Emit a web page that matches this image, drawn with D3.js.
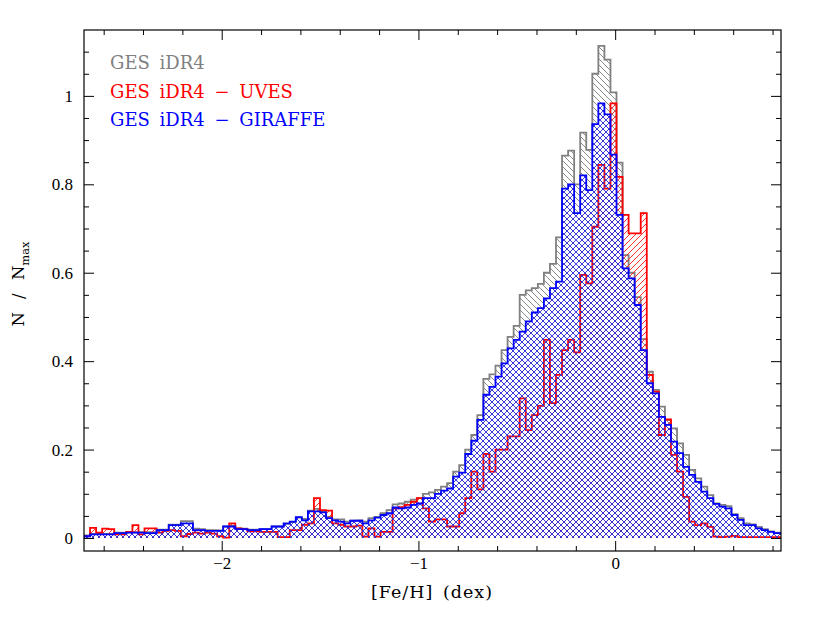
<!DOCTYPE html>
<html><head><meta charset="utf-8">
<script src="https://cdn.jsdelivr.net/npm/d3@7"></script>
<style>body{margin:0;background:#fff}svg{display:block}</style>
</head><body>
<svg id="c" width="830" height="621"></svg>
<script>
// ---- data ----
const binStart = -2.70;      // left edge of first bin (dex)
const binWidth = 0.03076;    // bin width (dex)
const seriesNames = ["GES iDR4", "GES iDR4 \u2212 UVES", "GES iDR4 \u2212 GIRAFFE"];
const totalValues = [
0.006,0.009,0.009,0.009,0.009,0.012,0.012,0.013,0.013,0.013,
0.013,0.013,0.019,0.019,0.030,0.030,0.038,0.038,0.021,0.020,
0.018,0.018,0.017,0.026,0.028,0.022,0.021,0.019,0.019,0.020,
0.020,0.026,0.026,0.032,0.036,0.046,0.043,0.062,0.066,0.060,
0.048,0.042,0.042,0.037,0.039,0.040,0.037,0.045,0.048,0.056,
0.063,0.076,0.078,0.082,0.087,0.090,0.100,0.103,0.109,0.116,
0.124,0.150,0.165,0.200,0.233,0.278,0.360,0.370,0.390,0.425,
0.455,0.480,0.550,0.560,0.565,0.575,0.600,0.620,0.680,0.865,
0.876,0.800,0.917,0.878,1.050,1.113,1.082,1.008,0.849,0.640,
0.600,0.545,0.450,0.376,0.335,0.297,0.267,0.248,0.214,0.188,
0.154,0.135,0.116,0.097,0.078,0.075,0.072,0.054,0.045,0.033,
0.031,0.025,0.020,0.015,0.012,0.012];
const uvesValues = [
0.004,0.023,0.012,0.021,0.020,0.008,0.008,0.014,0.029,0.008,
0.022,0.022,0.012,0.016,0.018,0.016,0.004,0.009,0.012,0.010,
0.012,0.010,0.004,0.001,0.033,0.022,0.020,0.015,0.015,0.014,
0.014,0.014,0.002,0.002,0.018,0.018,0.030,0.033,0.090,0.063,
0.062,0.033,0.030,0.026,0.026,0.028,0.003,0.022,0.003,0.014,
0.014,0.067,0.070,0.075,0.082,0.090,0.067,0.037,0.042,0.042,
0.026,0.026,0.056,0.090,0.150,0.110,0.190,0.150,0.200,0.200,
0.230,0.230,0.316,0.244,0.278,0.299,0.448,0.305,0.369,0.425,
0.448,0.420,0.595,0.576,0.704,0.844,0.790,0.983,0.817,0.731,
0.689,0.689,0.735,0.369,0.331,0.233,0.268,0.188,0.150,0.093,
0.037,0.029,0.033,0.025,0.003,0.002,0.003,0.005,0.002,0.002,
0.002,0.002,0.002,0.002,0.002,0.002];
const giraffeValues = [
0.004,0.008,0.008,0.008,0.008,0.011,0.011,0.012,0.012,0.012,
0.011,0.011,0.018,0.018,0.029,0.029,0.033,0.033,0.018,0.018,
0.016,0.016,0.016,0.026,0.026,0.020,0.020,0.018,0.018,0.020,
0.020,0.026,0.026,0.033,0.037,0.047,0.040,0.060,0.060,0.058,
0.045,0.040,0.037,0.033,0.039,0.039,0.033,0.040,0.046,0.052,
0.056,0.069,0.067,0.069,0.075,0.078,0.090,0.090,0.100,0.107,
0.112,0.139,0.148,0.190,0.220,0.267,0.324,0.342,0.365,0.395,
0.429,0.448,0.467,0.490,0.510,0.520,0.542,0.565,0.580,0.790,
0.800,0.735,0.820,0.787,0.936,0.983,0.958,0.867,0.731,0.610,
0.587,0.527,0.425,0.350,0.327,0.274,0.256,0.218,0.192,0.161,
0.143,0.127,0.105,0.090,0.077,0.071,0.067,0.052,0.041,0.029,
0.029,0.022,0.018,0.014,0.011,0.011];
const xMajorTicks = [-2, -1, 0];
const xMinorTicks = [-2.6,-2.4,-2.2,-1.8,-1.6,-1.4,-1.2,-0.8,-0.6,-0.4,-0.2,0.2,0.4,0.6,0.8];
const yMajorTicks = [0, 0.2, 0.4, 0.6, 0.8, 1];
const yMinorTicks = [0.05,0.1,0.15,0.25,0.3,0.35,0.45,0.5,0.55,0.65,0.7,0.75,0.85,0.9,0.95,1.05,1.1];
const xLabel = "[Fe/H] (dex)";

// ---- layout ----
const L = 84, T = 30, R = 781, B = 551;
const svg = d3.select("#c");
const x = d3.scaleLinear().domain([-2.70, 0.843]).range([L, R]);
const y = d3.scaleLinear().domain([-0.0294, 1.149]).range([B, T]);

const defs = svg.append("defs");
defs.append("clipPath").attr("id","clip").append("rect")
  .attr("x", L).attr("y", T).attr("width", R-L).attr("height", B-T);

function hatch(id, color, dirs, sw, size) {
  const p = defs.append("pattern").attr("id", id).attr("patternUnits","userSpaceOnUse")
    .attr("width", size).attr("height", size);
  const s = size;
  if (dirs.includes("\\")) p.append("path")
    .attr("d", `M0,0 L${s},${s} M${-s/2},${s/2} L${s/2},${s*1.5} M${s/2},${-s/2} L${s*1.5},${s/2}`)
    .attr("stroke", color).attr("stroke-width", sw).attr("fill","none");
  if (dirs.includes("/")) p.append("path")
    .attr("d", `M0,${s} L${s},0 M${-s/2},${s/2} L${s/2},${-s/2} M${s/2},${s*1.5} L${s*1.5},${s/2}`)
    .attr("stroke", color).attr("stroke-width", sw).attr("fill","none");
}
hatch("hGray", "#8a8a8a", "\\", 1, 6);
hatch("hRed", "#ff3030", "/", 1, 6);
hatch("hBlue", "#2a2ad8", "\\/", 0.9, 6);

function stepPoints(vals) {
  const pts = [[binStart, 0]];
  vals.forEach((v, i) => pts.push([binStart + i*binWidth, v]));
  pts.push([binStart + vals.length*binWidth, 0]);
  return pts;
}
const area = d3.area().curve(d3.curveStepAfter)
  .x(d => x(d[0])).y0(y(0)).y1(d => y(d[1]));
const line = d3.line().curve(d3.curveStepAfter)
  .x(d => x(d[0])).y(d => y(d[1]));

const g = svg.append("g").attr("clip-path","url(#clip)");
const series = [
  {vals: totalValues, fill: "url(#hGray)", stroke: "#808080"},
  {vals: uvesValues, fill: "url(#hRed)", stroke: "#ff0000"},
  {vals: giraffeValues, fill: "url(#hBlue)", stroke: "#0000ff"}
];
series.forEach(s => {
  const pts = stepPoints(s.vals);
  g.append("path").attr("d", area(pts)).attr("fill", s.fill).attr("stroke","none");
  g.append("path").attr("d", line(pts)).attr("fill","none")
    .attr("stroke", s.stroke).attr("stroke-width", 1.8).attr("stroke-linejoin","miter");
});

// ---- axes ----
const tickFont = "'Liberation Serif', serif";
function styleAxis(sel){ sel.select(".domain").remove(); sel.selectAll("line").attr("stroke","#000").attr("stroke-width",1); }
const fmtY = d => d === 0 ? "0" : d === 1 ? "1" : d3.format(".1f")(d);
const fmtX = d => d3.format("")(d).replace("-", "\u2212");

const xb = svg.append("g").attr("transform",`translate(0,${B})`)
  .call(d3.axisBottom(x).tickValues(xMajorTicks).tickSize(-10).tickPadding(6).tickFormat(fmtX));
styleAxis(xb);
xb.selectAll("text").attr("font-family", tickFont).attr("font-size", 17).attr("fill","#000");
const xbm = svg.append("g").attr("transform",`translate(0,${B})`)
  .call(d3.axisBottom(x).tickValues(xMinorTicks).tickSize(-5).tickFormat(""));
styleAxis(xbm);
const xt = svg.append("g").attr("transform",`translate(0,${T})`)
  .call(d3.axisTop(x).tickValues(xMajorTicks).tickSize(-10).tickFormat(""));
styleAxis(xt);
const xtm = svg.append("g").attr("transform",`translate(0,${T})`)
  .call(d3.axisTop(x).tickValues(xMinorTicks).tickSize(-5).tickFormat(""));
styleAxis(xtm);

const yl = svg.append("g").attr("transform",`translate(${L},0)`)
  .call(d3.axisLeft(y).tickValues(yMajorTicks).tickSize(-10).tickPadding(11).tickFormat(fmtY));
styleAxis(yl);
yl.selectAll("text").attr("font-family", tickFont).attr("font-size", 17).attr("fill","#000");
const ylm = svg.append("g").attr("transform",`translate(${L},0)`)
  .call(d3.axisLeft(y).tickValues(yMinorTicks).tickSize(-5).tickFormat(""));
styleAxis(ylm);
const yr = svg.append("g").attr("transform",`translate(${R},0)`)
  .call(d3.axisRight(y).tickValues(yMajorTicks).tickSize(-10).tickFormat(""));
styleAxis(yr);
const yrm = svg.append("g").attr("transform",`translate(${R},0)`)
  .call(d3.axisRight(y).tickValues(yMinorTicks).tickSize(-5).tickFormat(""));
styleAxis(yrm);

svg.append("rect").attr("x", L).attr("y", T).attr("width", R-L).attr("height", B-T)
  .attr("fill","none").attr("stroke","#000").attr("stroke-width",1.2);

// ---- titles ----
const labFont = "'DejaVu Serif', serif";
svg.append("text").attr("x", 432).attr("y", 598).attr("text-anchor","middle")
  .attr("font-family", labFont).attr("font-size", 17.5)
  .attr("letter-spacing", 1).attr("word-spacing", 3).text(xLabel);
const yt = svg.append("text").attr("transform","translate(24,284) rotate(-90)")
  .attr("text-anchor","middle").attr("font-family", labFont).attr("font-size", 16.5)
  .attr("word-spacing", 8);
yt.append("tspan").text("N / N");
yt.append("tspan").attr("dy", 5).attr("font-size", 11.5).text("max");

// ---- legend ----
const legColors = ["#808080", "#ff0000", "#0000ff"];
seriesNames.forEach((n, i) => {
  svg.append("text").attr("x", 110).attr("y", 69 + i*28.5)
    .attr("font-family", labFont).attr("font-size", 18).attr("fill", legColors[i])
    .attr("word-spacing", 4).text(n);
});
</script>
</body></html>
